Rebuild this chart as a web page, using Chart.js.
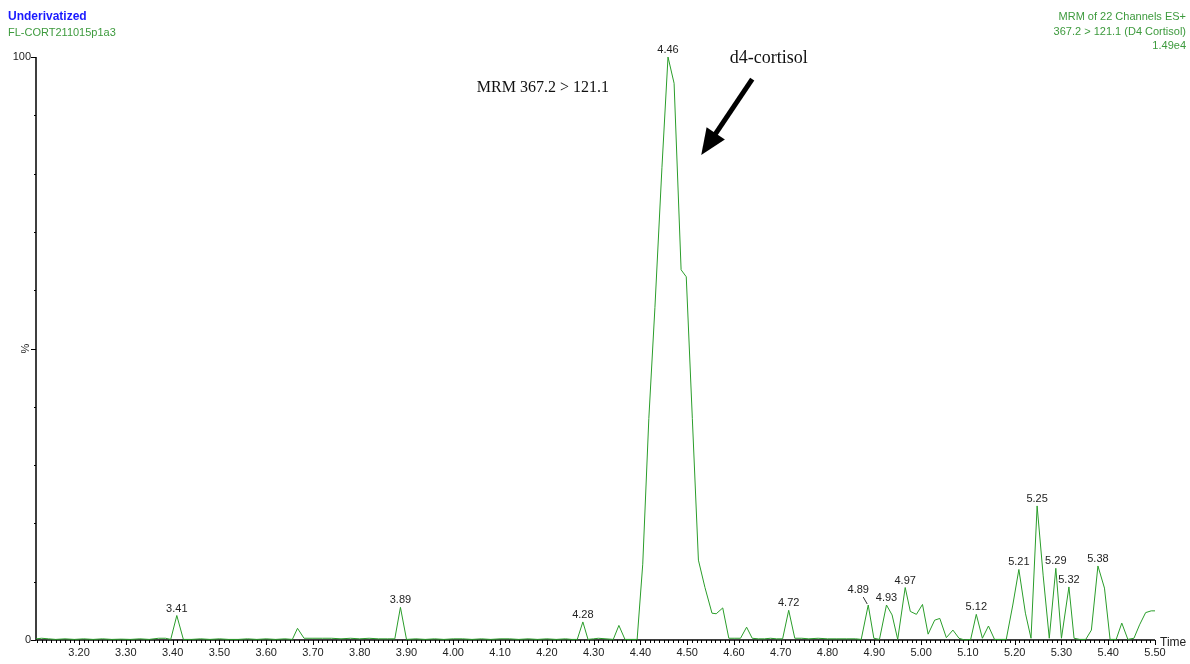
<!DOCTYPE html>
<html>
<head>
<meta charset="utf-8">
<title>MRM 367.2 &gt; 121.1 (D4 Cortisol)</title>
<script src="https://cdn.jsdelivr.net/npm/chart.js@4.4.1/dist/chart.umd.min.js"></script>
<style>
  html, body { margin: 0; padding: 0; background: #ffffff; }
  canvas { display: block; }
</style>
</head>
<body>
<canvas id="chrom" width="1190" height="664"></canvas>
<script>
// Retention time (min) of each scan
const times = [
  3.108, 3.120, 3.135, 3.150, 3.170, 3.190, 3.210, 3.230, 3.250, 3.270,
  3.290, 3.310, 3.330, 3.350, 3.370, 3.385, 3.396, 3.409, 3.423, 3.440,
  3.460, 3.480, 3.500, 3.520, 3.540, 3.560, 3.580, 3.600, 3.620, 3.640,
  3.656, 3.667, 3.681, 3.700, 3.720, 3.740, 3.760, 3.780, 3.800, 3.820,
  3.840, 3.860, 3.875, 3.887, 3.900, 3.920, 3.940, 3.960, 3.980, 4.000,
  4.020, 4.040, 4.060, 4.080, 4.100, 4.120, 4.140, 4.160, 4.180, 4.200,
  4.220, 4.240, 4.253, 4.265, 4.277, 4.288, 4.300, 4.310, 4.342, 4.354,
  4.367, 4.380, 4.393, 4.405, 4.418, 4.431, 4.446, 4.459, 4.472, 4.487,
  4.498, 4.511, 4.524, 4.538, 4.553, 4.562, 4.576, 4.589, 4.602, 4.614,
  4.627, 4.639, 4.652, 4.665, 4.678, 4.691, 4.704, 4.717, 4.730, 4.745,
  4.760, 4.780, 4.800, 4.820, 4.840, 4.860, 4.872, 4.887, 4.899, 4.911,
  4.926, 4.938, 4.950, 4.966, 4.977, 4.990, 5.003, 5.015, 5.029, 5.040,
  5.054, 5.068, 5.081, 5.093, 5.106, 5.118, 5.131, 5.144, 5.157, 5.170,
  5.182, 5.196, 5.209, 5.223, 5.235, 5.248, 5.261, 5.274, 5.288, 5.300,
  5.316, 5.327, 5.339, 5.352, 5.364, 5.378, 5.392, 5.404, 5.417, 5.429,
  5.442, 5.455, 5.467, 5.480, 5.492, 5.500
];

// Relative intensity (% of 1.49e4)
const intensity = [
  0.2, 0.3, 0.2, 0.1, 0.2, 0.1, 0.2, 0.1, 0.2, 0.1,
  0.15, 0.1, 0.2, 0.1, 0.3, 0.3, 0.1, 4.2, 0.1, 0.1,
  0.2, 0.1, 0.2, 0.1, 0.1, 0.2, 0.1, 0.2, 0.1, 0.2,
  0.1, 2.0, 0.3, 0.3, 0.3, 0.3, 0.2, 0.3, 0.2, 0.3,
  0.2, 0.2, 0.2, 5.6, 0.1, 0.2, 0.1, 0.2, 0.1, 0.2,
  0.2, 0.1, 0.2, 0.1, 0.2, 0.2, 0.1, 0.2, 0.1, 0.2,
  0.1, 0.2, 0.1, 0.1, 3.1, 0.1, 0.2, 0.3, 0.1, 2.5,
  0.1, 0.1, 0.1, 13, 38, 57, 81, 100, 95.5, 63.5,
  62.3, 38, 13.7, 9, 4.6, 4.5, 5.5, 0.3, 0.3, 0.3,
  2.2, 0.3, 0.2, 0.2, 0.3, 0.2, 0.2, 5.1, 0.3, 0.3,
  0.2, 0.3, 0.2, 0.2, 0.2, 0.2, 0.1, 6.0, 0.3, 0.1,
  6.0, 4.3, 0.1, 9.0, 4.9, 4.4, 6.1, 1.0, 3.4, 3.7,
  0.4, 1.7, 0.3, 0.0, 0.1, 4.4, 0.3, 2.4, 0.1, 0.1,
  0.1, 6.0, 12.1, 4.6, 0.3, 23.0, 11.0, 0.3, 12.3, 0.3,
  9.1, 0.3, 0.1, 0.1, 1.7, 12.7, 8.9, 0.1, 0.1, 2.9,
  0.1, 0.3, 2.6, 4.7, 5.0, 5.0
];

// Peaks annotated with their apex retention time
const labelledPeaks = [3.409, 3.887, 4.277, 4.459, 4.717, 4.887, 4.926, 4.966,
                       5.118, 5.209, 5.248, 5.288, 5.316, 5.378];

// Axis ticks
const xTicks = [3.20, 3.30, 3.40, 3.50, 3.60, 3.70, 3.80, 3.90, 4.00, 4.10, 4.20, 4.30,
                4.40, 4.50, 4.60, 4.70, 4.80, 4.90, 5.00, 5.10, 5.20, 5.30, 5.40, 5.50];
const yTicks = [0, 50, 100];
const yTickLabels = ['0', '%', '100'];
const xAxisTitle = 'Time';

// Header text
const headerLeft = ['Underivatized', 'FL-CORT211015p1a3'];
const headerRight = ['MRM of 22 Channels ES+', '367.2 > 121.1 (D4 Cortisol)', '1.49e4'];
const traceNote = 'MRM 367.2 > 121.1';
const compoundNote = 'd4-cortisol';

const points = times.map((t, i) => ({ x: t, y: intensity[i] }));

const SANS = '"Liberation Sans", Arial, sans-serif';
const SERIF = '"Liberation Serif", "Times New Roman", serif';
const GREEN_TEXT = '#3d9a3d';

const chromDecor = {
  id: 'chromDecor',
  beforeDatasetsDraw(chart) {
    const { ctx, chartArea: a } = chart;
    const xs = chart.scales.x, ys = chart.scales.y;
    ctx.save();
    ctx.strokeStyle = '#000';

    // axis lines
    ctx.lineWidth = 1.5;
    ctx.beginPath();
    ctx.moveTo(a.left, a.top);
    ctx.lineTo(a.left, a.bottom);
    ctx.lineTo(a.right, a.bottom);
    ctx.stroke();

    // x ticks: minor every 0.01, major every 0.1
    ctx.lineWidth = 1;
    const first = Math.ceil(xs.min * 100 - 1e-6);
    const last = Math.floor(xs.max * 100 + 1e-6);
    ctx.beginPath();
    for (let i = first; i <= last; i++) {
      const px = Math.round(xs.getPixelForValue(i / 100)) + 0.5;
      const len = (i % 10 === 0) ? 5 : 3;
      ctx.moveTo(px, a.bottom);
      ctx.lineTo(px, a.bottom + len);
    }
    // y ticks every 10 %
    for (let v = 0; v <= 100; v += 10) {
      const py = Math.round(ys.getPixelForValue(v)) + 0.5;
      const len = yTicks.includes(v) ? 5 : 2;
      ctx.moveTo(a.left, py);
      ctx.lineTo(a.left - len, py);
    }
    ctx.stroke();

    // x tick labels
    ctx.fillStyle = '#222';
    ctx.font = '11px ' + SANS;
    ctx.textAlign = 'center';
    ctx.textBaseline = 'top';
    xTicks.forEach(t => {
      ctx.fillText(t.toFixed(2), xs.getPixelForValue(t), a.bottom + 7);
    });
    ctx.textAlign = 'left';
    ctx.textBaseline = 'middle';
    ctx.font = '12px ' + SANS;
    ctx.fillText(xAxisTitle, a.right + 5, a.bottom + 3);

    // y tick labels
    ctx.font = '11px ' + SANS;
    yTicks.forEach((v, i) => {
      const py = ys.getPixelForValue(v);
      if (yTickLabels[i] === '%') {
        ctx.save();
        ctx.translate(a.left - 5, py);
        ctx.rotate(-Math.PI / 2);
        ctx.textAlign = 'center';
        ctx.textBaseline = 'bottom';
        ctx.fillText(yTickLabels[i], 0, 0);
        ctx.restore();
      } else {
        ctx.textAlign = 'right';
        ctx.textBaseline = 'middle';
        ctx.fillText(yTickLabels[i], a.left - 5, py);
      }
    });
    ctx.restore();
  },
  afterDatasetsDraw(chart) {
    const { ctx } = chart;
    const xs = chart.scales.x, ys = chart.scales.y;
    ctx.save();

    // peak apex labels
    ctx.font = '11px ' + SANS;
    ctx.fillStyle = '#222';
    ctx.textAlign = 'center';
    ctx.textBaseline = 'alphabetic';
    const offsetLabels = { '4.89': [-10, -9] };
    labelledPeaks.forEach(t => {
      const i = times.indexOf(t);
      const px = xs.getPixelForValue(t);
      const py = ys.getPixelForValue(intensity[i]);
      const txt = t.toFixed(2);
      const off = offsetLabels[txt];
      if (off) {
        ctx.strokeStyle = '#333';
        ctx.lineWidth = 1;
        ctx.beginPath();
        ctx.moveTo(px - 1, py - 1);
        ctx.lineTo(px + off[0] + 5, py + off[1] + 1);
        ctx.stroke();
        ctx.fillText(txt, px + off[0], py + off[1] - 3);
      } else {
        ctx.fillText(txt, px, py - 4);
      }
    });

    // headers
    ctx.textBaseline = 'middle';
    ctx.textAlign = 'left';
    ctx.font = 'bold 12px ' + SANS;
    ctx.fillStyle = '#1a1aff';
    ctx.fillText(headerLeft[0], 8, 17);
    ctx.font = '11px ' + SANS;
    ctx.fillStyle = GREEN_TEXT;
    ctx.fillText(headerLeft[1], 8, 33);
    ctx.textAlign = 'right';
    headerRight.forEach((s, k) => ctx.fillText(s, 1186, 17 + k * 14.5));

    // trace and compound notes
    ctx.fillStyle = '#111';
    ctx.textAlign = 'left';
    ctx.font = '16px ' + SERIF;
    ctx.fillText(traceNote, xs.getPixelForValue(4.0504), ys.getPixelForValue(94.7));
    ctx.font = '18px ' + SERIF;
    ctx.fillText(compoundNote, xs.getPixelForValue(4.591), ys.getPixelForValue(99.8));

    // arrow pointing at the d4-cortisol peak
    const x0 = xs.getPixelForValue(4.639), y0 = ys.getPixelForValue(96.2);
    const x1 = xs.getPixelForValue(4.530), y1 = ys.getPixelForValue(83.2);
    const ang = Math.atan2(y1 - y0, x1 - x0);
    const headLen = 26, headHalf = 11;
    const bx = x1 - headLen * Math.cos(ang), by = y1 - headLen * Math.sin(ang);
    ctx.strokeStyle = '#000';
    ctx.lineWidth = 5;
    ctx.lineCap = 'butt';
    ctx.beginPath();
    ctx.moveTo(x0, y0);
    ctx.lineTo(bx + 2 * Math.cos(ang), by + 2 * Math.sin(ang));
    ctx.stroke();
    ctx.fillStyle = '#000';
    ctx.beginPath();
    ctx.moveTo(x1, y1);
    ctx.lineTo(bx + headHalf * Math.sin(ang), by - headHalf * Math.cos(ang));
    ctx.lineTo(bx - headHalf * Math.sin(ang), by + headHalf * Math.cos(ang));
    ctx.closePath();
    ctx.fill();

    ctx.restore();
  }
};

new Chart(document.getElementById('chrom'), {
  type: 'line',
  data: {
    datasets: [{
      data: points,
      borderColor: '#2a9d2a',
      borderWidth: 1,
      pointRadius: 0,
      tension: 0,
      fill: false,
      clip: false
    }]
  },
  options: {
    responsive: false,
    animation: false,
    devicePixelRatio: 1,
    layout: { padding: { left: 36, right: 35, top: 57, bottom: 24 } },
    plugins: { legend: { display: false }, title: { display: false }, tooltip: { enabled: false } },
    scales: {
      x: { type: 'linear', min: 3.108, max: 5.5, display: false },
      y: { type: 'linear', min: 0, max: 100, display: false }
    }
  },
  plugins: [chromDecor]
});
</script>
</body>
</html>
